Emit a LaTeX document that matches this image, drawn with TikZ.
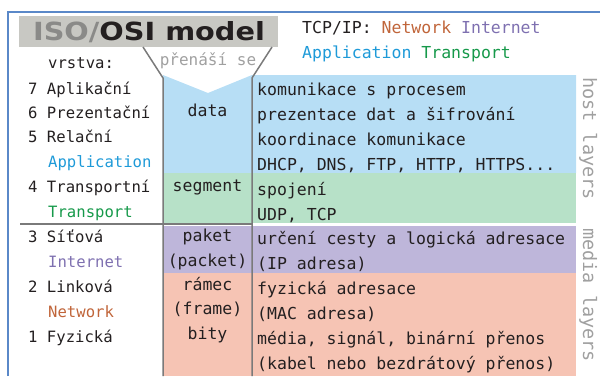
\documentclass[tikz,border=0pt]{standalone}
\usepackage{fontspec}
\newfontfamily\mono{DejaVu Sans Mono}
\newfontfamily\titlefont[FakeStretch=1.15]{DejaVu Sans}
\definecolor{cblue}{HTML}{B7DEF5}
\definecolor{cgreen}{HTML}{B7E1C8}
\definecolor{cpurple}{HTML}{BEB6DA}
\definecolor{cpink}{HTML}{F6C4B4}
\definecolor{ctitle}{HTML}{C8C8C3}
\definecolor{cborder}{HTML}{5A88C8}
\definecolor{cline}{HTML}{7A7A7A}
\definecolor{ctext}{HTML}{231F20}
\definecolor{ctgray}{HTML}{8A8A88}
\definecolor{cnet}{HTML}{C0653A}
\definecolor{cint}{HTML}{7E70B0}
\definecolor{capp}{HTML}{1E9AD8}
\definecolor{ctrans}{HTML}{16994A}
\definecolor{clight}{HTML}{A0A0A0}
\tikzset{
  lcol/.style={anchor=base west, inner sep=0pt, text=ctext, font=\mono\fontsize{15.6}{18}\selectfont},
  ccol/.style={anchor=base west, inner sep=0pt, text=ctext, font=\mono\fontsize{16.5}{19}\selectfont},
  dcol/.style={anchor=base, inner sep=0pt, text=ctext, font=\mono\fontsize{16.5}{19}\selectfont},
  side/.style={anchor=base west, inner sep=0pt, rotate=-90, text=clight, font=\mono\fontsize{18.5}{20}\selectfont},
  gline/.style={draw=cline, line width=1.5pt},
}
\begin{document}
\begin{tikzpicture}[x=1pt,y=-1pt]
\useasboundingbox (0,0) rectangle (600,376);
% colour bands
\fill[cblue] (163,75) -- (208,93) -- (252,75) -- (576,75) -- (576,173) -- (163,173) -- cycle;
\fill[cgreen] (163,173) rectangle (576,223);
\fill[cpurple] (163,225.5) rectangle (576,273);
\fill[cpink] (163,273) rectangle (576,376);
% frame
\draw[cborder, line width=2pt] (8,376) -- (8,12) -- (600,12);
% title
\fill[ctitle] (19,16) rectangle (278,47);
\node[anchor=base, inner sep=0pt, font=\titlefont\bfseries\fontsize{25}{28}\selectfont] (title) at (149,40) {\textcolor{ctgray}{ISO/}\textcolor{ctext}{OSI model}};
% funnel and columns
\draw[gline] (143,47) -- (163,78) -- (163,376);
\draw[gline] (272,47) -- (252,78) -- (252,376);
\draw[gline] (20,224) -- (252,224);
\node[anchor=base, inner sep=0pt, text=clight, font=\mono\fontsize{16}{18}\selectfont] (pren) at (208,65.5) {přenáší se};
% TCP/IP legend
\node[ccol] (tcp) at (302,33.3) {TCP/IP: \textcolor{cnet}{Network} \textcolor{cint}{Internet}};
\node[ccol] (tcp2) at (302,58.3) {\textcolor{capp}{Application} \textcolor{ctrans}{Transport}};
% left column
\node[lcol] (vr) at (48,68) {vrstva:};
\node[lcol] (l7) at (28,94) {7 Aplikační};
\node[lcol] (l6) at (28,118.5) {6 Prezentační};
\node[lcol] (l5) at (28,142.5) {5 Relační};
\node[lcol, text=capp] (lapp) at (48,167.3) {Application};
\node[lcol] (l4) at (28,192) {4 Transportní};
\node[lcol, text=ctrans] (ltr) at (48,217) {Transport};
\node[lcol] (l3) at (28,242) {3 Síťová};
\node[lcol, text=cint] (lint) at (48,267) {Internet};
\node[lcol] (l2) at (28,292.5) {2 Linková};
\node[lcol, text=cnet] (lnet) at (48,317.5) {Network};
\node[lcol] (l1) at (28,342) {1 Fyzická};
% data column
\node[dcol] (d1) at (207.5,116) {data};
\node[dcol] (d2) at (207.5,191.5) {segment};
\node[dcol] (d3) at (207.5,241.5) {paket};
\node[dcol] (d4) at (207.5,266.5) {(packet)};
\node[dcol] (d5) at (207.5,290.5) {rámec};
\node[dcol] (d6) at (207.5,314.5) {(frame)};
\node[dcol] (d7) at (207.5,339) {bity};
% content column
\node[ccol] (c1) at (257,95.5) {komunikace s procesem};
\node[ccol] (c2) at (257,120.3) {prezentace dat a šifrování};
\node[ccol] (c3) at (257,145) {koordinace komunikace};
\node[ccol] (c4) at (257,170.5) {DHCP, DNS, FTP, HTTP, HTTPS...};
\node[ccol] (c5) at (257,195) {spojení};
\node[ccol] (c6) at (257,220) {UDP, TCP};
\node[ccol] (c7) at (257,244) {určení cesty a logická adresace};
\node[ccol] (c8) at (257,269.3) {(IP adresa)};
\node[ccol] (c9) at (257,294.3) {fyzická adresace};
\node[ccol] (c10) at (257,319.3) {(MAC adresa)};
\node[ccol] (c11) at (257,344.3) {média, signál, binární přenos};
\node[ccol] (c12) at (257,369) {(kabel nebo bezdrátový přenos)};
% side labels
\node[side] (host) at (583,77) {host layers};
\node[side] (media) at (583,228) {media layers};
\end{tikzpicture}
\end{document}
